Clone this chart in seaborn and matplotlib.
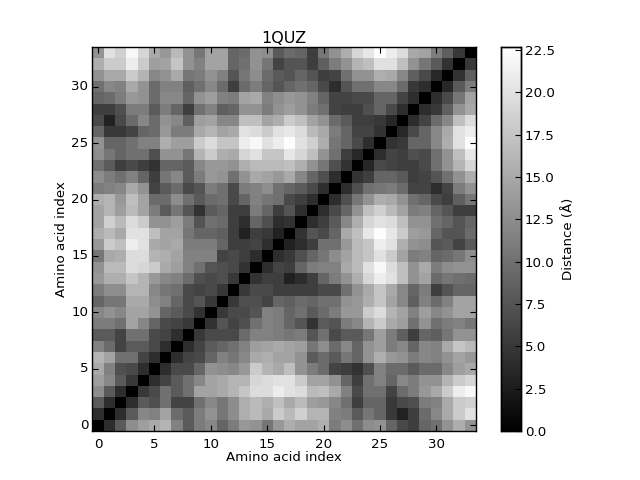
import numpy as np
import matplotlib
matplotlib.use("Agg")
import matplotlib.pyplot as plt
import seaborn as sns

# Distances (Angstrom), row i holds columns 0..i-1
lower_rows = [
    [],
    [4],
    [8, 4],
    [12.5, 8, 4],
    [14, 12, 8, 5],
    [15, 11.5, 7, 6.5, 4],
    [16, 14.5, 10, 10, 6, 4],
    [11.5, 9.5, 6, 8, 8, 6.5, 4],
    [8, 8, 6, 10, 10, 6.5, 6, 4],
    [11, 11, 10, 14.5, 12, 9, 6.5, 6, 5],
    [12, 13, 12, 14.5, 14.5, 13, 9, 8, 6.5, 4.5],
    [9, 10.5, 10.5, 15, 15, 12.5, 11.5, 9, 6.5, 7.5, 5],
    [11, 12.5, 12.5, 16, 16, 12, 10.5, 10, 6.5, 6, 6.5, 5],
    [13.5, 15.5, 15.5, 17.5, 16, 13.5, 12, 11.5, 9.5, 7, 6.5, 7, 5],
    [13, 16.5, 16.5, 19.5, 19, 18, 15, 14, 11.5, 10, 7.5, 7, 6.5, 4.5],
    [10.5, 15, 15.5, 19.5, 19.5, 16, 15.5, 14.5, 11.5, 11.5, 11.5, 6, 6.5, 5.5, 4],
    [13.5, 18, 17, 21, 20, 15, 14.5, 15, 11, 11, 11, 9, 5.5, 5.5, 6, 4],
    [15.5, 16.5, 15, 20, 20, 17, 14.5, 14.5, 10.5, 9, 9, 8.5, 5.5, 3, 5.5, 5, 3],
    [14.5, 18.5, 16.5, 19.5, 18, 13, 13, 14, 11, 7.5, 10, 9.5, 5.5, 4, 9, 7, 4, 4.5],
    [14.5, 16, 14, 16.5, 14.5, 11, 8, 10.5, 7.5, 4.5, 8, 9, 5.5, 5.5, 11, 9, 5.5, 7.5, 4],
    [15.5, 16, 13.5, 17, 14.5, 9.5, 9.5, 12.5, 10, 8, 9.5, 10, 6.5, 9, 11.5, 10.5, 10, 6.5, 5.5, 4],
    [11, 11.5, 12, 15, 13, 6, 8, 9.5, 6.5, 7.5, 11, 10, 6.5, 11, 11.5, 12.5, 10, 9, 8, 6.5, 4],
    [12.5, 11, 10, 11.5, 9, 5.5, 10.5, 12, 8, 11, 13.5, 13, 10, 13, 15, 14.5, 13.5, 15, 12, 9, 7, 4],
    [10, 8, 5.5, 6.5, 5.5, 4.5, 9, 9, 8, 12, 13.5, 13.5, 13, 15.5, 16.5, 16.5, 16.5, 17, 15.5, 13, 10.5, 7, 4.5],
    [12.5, 10.5, 9, 10, 10, 7, 13, 13, 10.5, 16, 18, 15.5, 15, 19, 20, 17.5, 17.5, 20.5, 19, 17, 13, 10, 5.5, 3.5],
    [13, 9, 9, 10, 11.5, 11.5, 15.5, 14, 14, 18, 19.5, 17.5, 17.5, 21, 22, 20, 21, 22.5, 20, 18.5, 15.5, 10.5, 9, 6.5, 4],
    [9, 5, 5, 6, 9, 9.5, 13.5, 11, 11, 15, 16, 14.5, 15, 20, 19.5, 18, 20, 20.5, 19.5, 16.5, 15, 11, 9, 6, 6, 4.5],
    [6.5, 3, 6.5, 9.5, 12, 9.5, 13, 12, 8.5, 14, 14.5, 12, 12, 17, 17, 14.5, 15.5, 18, 17, 14.5, 13, 9.5, 8, 5.5, 5.5, 5, 3.5],
    [5.5, 5.5, 7, 11, 11, 8, 11, 9, 5.5, 10, 11.5, 8.5, 9, 13, 13, 11, 13, 14, 13, 11, 10, 6, 5.5, 5.5, 7, 9, 6.5, 4],
    [9, 9.5, 11, 13.5, 13, 9.5, 12, 12, 9, 13, 14, 11.5, 11, 14.5, 15, 11.5, 12.5, 13.5, 13, 11.5, 9, 6, 6, 6.5, 6.5, 9, 9, 6, 4],
    [10, 12, 11.5, 15, 13, 9.5, 11.5, 11.5, 8.5, 10, 12, 9.5, 5.5, 9.5, 11, 9, 7.5, 9, 10, 9, 6.5, 4, 7.5, 10, 10, 12, 12, 9.5, 5, 4],
    [13, 15, 15, 18, 16, 12, 13, 15, 10.5, 11, 13, 11.5, 7.5, 10.5, 12.5, 9.5, 8, 7.5, 9, 7.5, 5.5, 6, 10, 13, 13, 15.5, 15, 12, 8.5, 6.5, 3.5],
    [15.5, 18, 18, 21, 18, 14, 14.5, 17.5, 13, 11.5, 14.5, 14.5, 9, 10, 13, 10.5, 6, 7.5, 7.5, 5.5, 8.5, 11, 13, 16, 17, 20, 20, 17, 13, 10.5, 8, 4.5],
    [13, 20, 18.5, 22, 19, 15, 13.5, 16.5, 13, 10.5, 14.5, 14.5, 9, 9.5, 13, 12.5, 8, 9.5, 9, 5.5, 10.5, 13, 15.5, 19, 20.5, 22.5, 21, 19.5, 15, 14.5, 11, 8.5, 5],
]
index_ticks = [0, 5, 10, 15, 20, 25, 30]
cbar_ticks = [0.0, 2.5, 5.0, 7.5, 10.0, 12.5, 15.0, 17.5, 20.0, 22.5]

n = len(lower_rows)
dist = np.zeros((n, n))
for i, row in enumerate(lower_rows):
    for j, v in enumerate(row):
        dist[i, j] = v
        dist[j, i] = v

fig = plt.figure(figsize=(6.4, 4.8), dpi=100)
ax = fig.add_axes([0.1445, 0.102, 0.599, 0.8])
cax = fig.add_axes([0.783, 0.102, 0.0305, 0.8])

# colour scale runs a little past the top tick, like the reference bar
sns.heatmap(dist, ax=ax, cbar_ax=cax, cmap="gray", vmin=0, vmax=22.68, square=False,
            cbar_kws={"ticks": cbar_ticks, "format": "%.1f"})
ax.invert_yaxis()

ax.set_xticks([t + 0.5 for t in index_ticks])
ax.set_xticklabels(index_ticks, rotation=0)
ax.set_yticks([t + 0.5 for t in index_ticks])
ax.set_yticklabels(index_ticks, rotation=0)
ax.tick_params(direction="in", length=4, top=True, right=True, labelsize=9.6)
ax.tick_params(axis="x", pad=5)
ax.tick_params(axis="y", pad=3)
ax.set_xlabel("Amino acid index", fontsize=9.6, labelpad=0)
ax.set_ylabel("Amino acid index", fontsize=9.6, labelpad=2)
ax.set_title("1QUZ", fontsize=11.5, pad=3)
for s in ax.spines.values():
    s.set_visible(True)
    s.set_linewidth(1)

cax.tick_params(direction="in", length=4, labelsize=9.6, pad=3)
cax.set_ylabel("Distance (Å)", fontsize=9.6, labelpad=5)
for s in cax.spines.values():
    s.set_visible(True)
    s.set_linewidth(1)

fig.savefig("out.png", dpi=100)
